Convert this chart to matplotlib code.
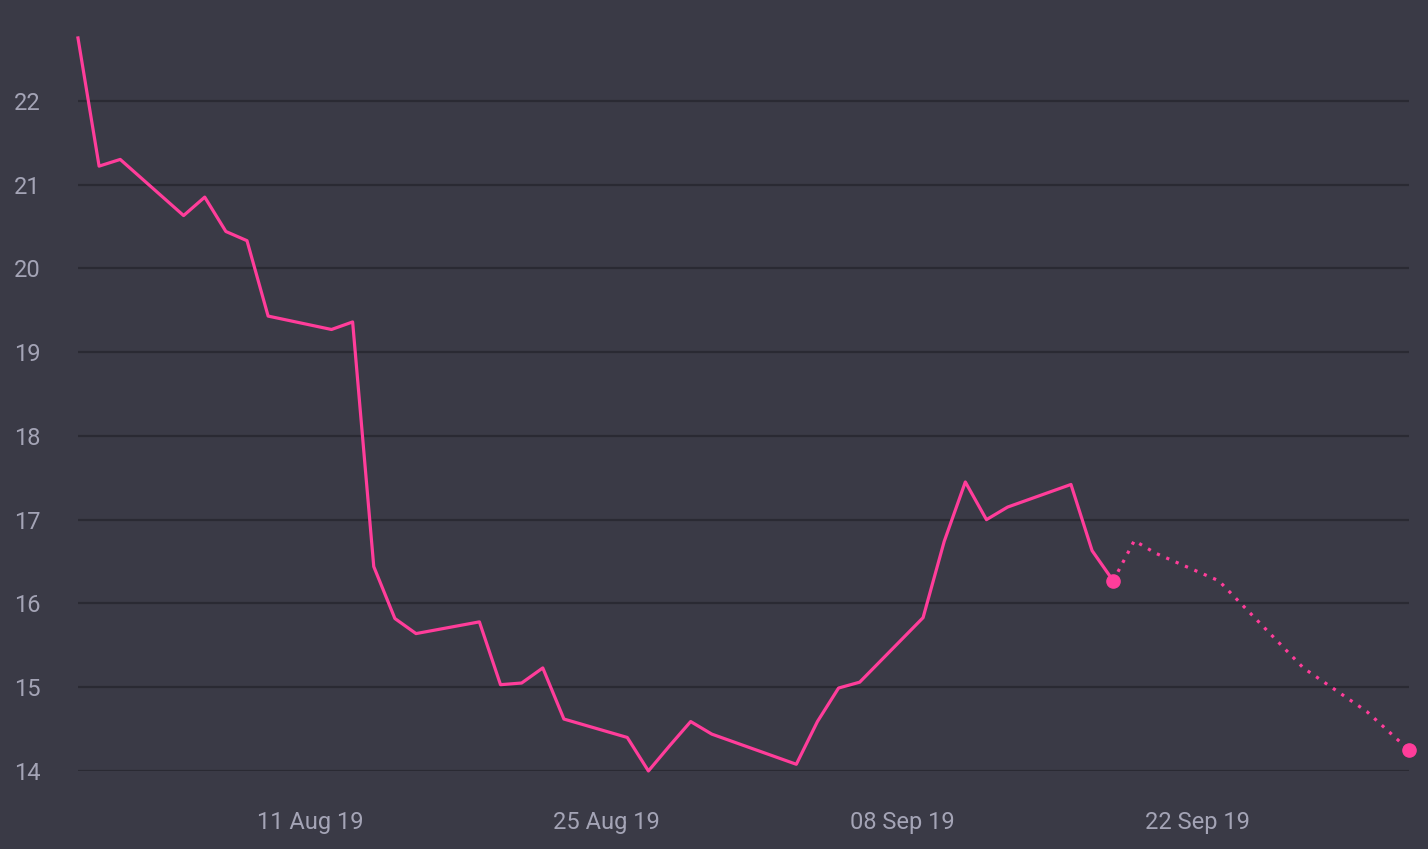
"""
Serie de precios con tramo de pronostico punteado.
"""
import datetime as dt
import matplotlib
matplotlib.use("Agg")
import matplotlib.pyplot as plt
import matplotlib.dates as mdates

# Datos (dias habiles)
fechas_reales = [
    "2019-07-31", "2019-08-01", "2019-08-02", "2019-08-05", "2019-08-06",
    "2019-08-07", "2019-08-08", "2019-08-09", "2019-08-12", "2019-08-13",
    "2019-08-14", "2019-08-15", "2019-08-16", "2019-08-19", "2019-08-20",
    "2019-08-21", "2019-08-22", "2019-08-23", "2019-08-26", "2019-08-27",
    "2019-08-28", "2019-08-29", "2019-08-30", "2019-09-03", "2019-09-04",
    "2019-09-05", "2019-09-06", "2019-09-09", "2019-09-10", "2019-09-11",
    "2019-09-12", "2019-09-13", "2019-09-16", "2019-09-17", "2019-09-18",
]
valores_reales = [
    22.75, 21.22, 21.30, 20.63, 20.85,
    20.44, 20.33, 19.43, 19.27, 19.36,
    16.44, 15.82, 15.64, 15.78, 15.03,
    15.05, 15.23, 14.62, 14.40, 14.00,
    14.30, 14.59, 14.44, 14.08, 14.59,
    14.99, 15.06, 15.83, 16.74, 17.45,
    17.00, 17.15, 17.42, 16.63, 16.27,
]

fechas_pronostico = [
    "2019-09-18", "2019-09-19", "2019-09-20", "2019-09-23", "2019-09-24",
    "2019-09-25", "2019-09-26", "2019-09-27", "2019-09-30", "2019-10-01",
    "2019-10-02",
]
valores_pronostico = [
    16.27, 16.75, 16.60, 16.27, 16.01,
    15.75, 15.49, 15.23, 14.71, 14.48,
    14.25,
]

fechas_ticks = ["2019-08-11", "2019-08-25", "2019-09-08", "2019-09-22"]
ticks_y = [14, 15, 16, 17, 18, 19, 20, 21, 22]

# Colores
fondo = "#3a3a46"
rejilla = "#2a2a33"
rosa = "#ff3d9a"
texto = "#a4a4b6"

def a_fecha(s):
    return dt.datetime.strptime(s, "%Y-%m-%d")

x_real = [a_fecha(f) for f in fechas_reales]
x_pron = [a_fecha(f) for f in fechas_pronostico]

plt.rcParams['font.family'] = ['Roboto', 'DejaVu Sans']

fig = plt.figure(figsize=(14.28, 8.49), dpi=100, facecolor=fondo)
ax = fig.add_axes([0.0546, 0.0919, 0.9321, 0.8634])
ax.set_facecolor(fondo)

# Linea real y pronostico
ax.plot(x_real, valores_reales, color=rosa, linewidth=2.3,
        clip_on=False, zorder=3)
ax.plot(x_pron, valores_pronostico, color=rosa, linewidth=2.3,
        linestyle=(0, (1, 2.2)), clip_on=False, zorder=3)

# Puntos finales
ax.plot([x_real[-1], x_pron[-1]], [valores_reales[-1], valores_pronostico[-1]],
        'o', color=rosa, markersize=9.5, clip_on=False, zorder=4)

# Ejes
ax.set_xlim(x_real[0], x_pron[-1])
ax.set_ylim(14, 22.75)
ax.set_yticks(ticks_y)
ax.set_xticks([a_fecha(f) for f in fechas_ticks])
ax.xaxis.set_major_formatter(mdates.DateFormatter("%d %b %y"))

ax.grid(axis='y', color=rejilla, linewidth=1.6)
ax.grid(axis='x', visible=False)
ax.set_axisbelow(True)
for s in ax.spines.values():
    s.set_visible(False)

ax.tick_params(axis='both', length=0, colors=texto, labelsize=17)
ax.tick_params(axis='y', pad=27)
ax.tick_params(axis='x', pad=29)

fig.savefig("out.png", dpi=100, facecolor=fondo)
